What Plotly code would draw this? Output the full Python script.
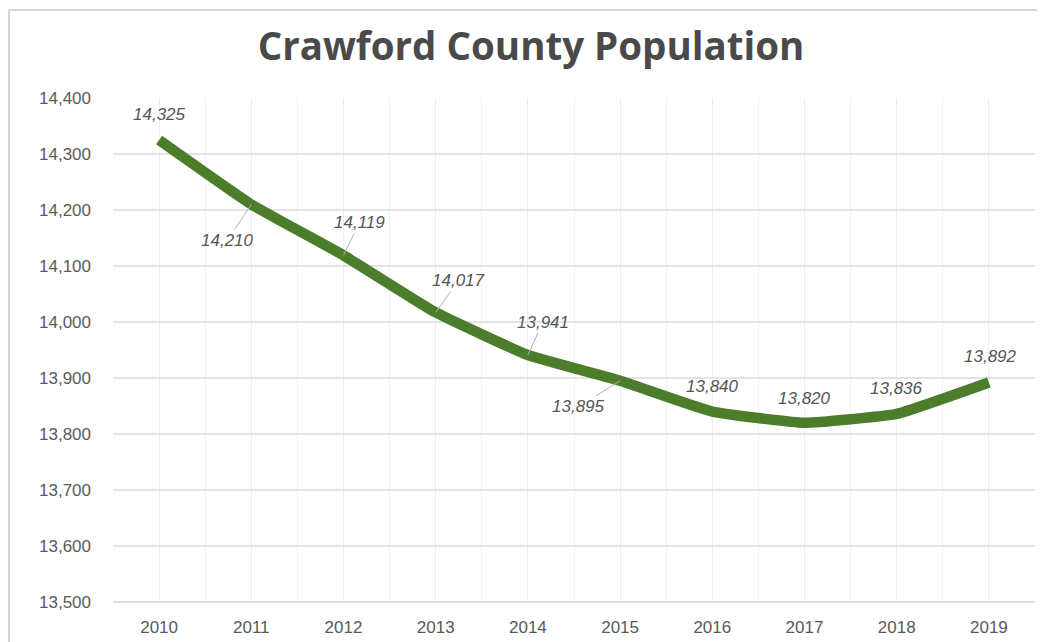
import plotly.graph_objects as go

years = [2010, 2011, 2012, 2013, 2014, 2015, 2016, 2017, 2018, 2019]
population = [14325, 14210, 14119, 14017, 13941, 13895, 13840, 13820, 13836, 13892]
label_dx = [0, -24, 16, 23, 15, -42, 0, 0, 0, 2]
label_dy = [-26, 36, -33, -32, -33, 26, -25, -24, -25, -26]
leader = [False, True, True, True, True, True, False, False, False, False]
y_ticks = [13500, 13600, 13700, 13800, 13900, 14000, 14100, 14200, 14300, 14400]

# page body adds an 8px offset, so the figure is 8px smaller than the window
W, H = 1037, 634
L, R, T, B = 105, 10, 90, 40
PW, PH = W - L - R, H - T - B

fig = go.Figure()
fig.add_trace(go.Scatter(
    x=years, y=population, mode="lines",
    line=dict(color="#4b7d2b", width=10.5, shape="spline", smoothing=0.35),
    hoverinfo="x+y", showlegend=False,
))

for x, v, dx, dy, ld in zip(years, population, label_dx, label_dy, leader):
    fig.add_annotation(
        x=x, y=v, text=f"<i>{v:,}</i>", ax=dx, ay=dy, xref="x", yref="y",
        showarrow=True, arrowhead=0, arrowwidth=1,
        arrowcolor="#b0b0b0" if ld else "rgba(0,0,0,0)", standoff=0,
        font=dict(family="Liberation Sans, Arial, sans-serif", size=17, color="#555555"),
    )

fig.update_layout(
    width=W, height=H,
    margin=dict(l=L, r=R, t=T, b=B),
    paper_bgcolor="white", plot_bgcolor="white",
    title=dict(text="<b>Crawford County Population</b>", x=(531 - 8) / W, xanchor="center",
               y=1 - (47 - 8) / H, yanchor="middle",
               font=dict(family="Open Sans, Lato, sans-serif", size=38.5, color="#4a4a4a")),
    xaxis=dict(range=[2009.5, 2019.5], tickvals=years, ticktext=[str(y) for y in years],
               showgrid=True, gridcolor="#eeeeee", gridwidth=1, zeroline=False,
               minor=dict(dtick=0.5, tick0=2009.5, showgrid=True, gridcolor="#f2f2f2"),
               ticks="", ticklabelstandoff=13, automargin=False,
               tickfont=dict(family="Liberation Sans, Arial, sans-serif", size=17, color="#595959")),
    yaxis=dict(range=[13500, 14400], tickvals=y_ticks, tickformat=",",
               showgrid=True, gridcolor="#e3e3e3", gridwidth=1.5, zeroline=False,
               ticks="", ticklabelstandoff=21, automargin=False,
               tickfont=dict(family="Liberation Sans, Arial, sans-serif", size=17, color="#595959")),
)

fig.add_shape(type="line", xref="paper", yref="paper",
              x0=0, x1=1, y0=0, y1=0, line=dict(color="#dddddd", width=2))
# outer frame: top and left edges
fig.add_shape(type="line", xref="paper", yref="paper",
              x0=(1 - L) / PW, x1=(W - L) / PW, y0=1 + (T - 2) / PH, y1=1 + (T - 2) / PH,
              line=dict(color="#d5d5d5", width=2))
fig.add_shape(type="line", xref="paper", yref="paper",
              x0=(1 - L) / PW, x1=(1 - L) / PW, y0=1 + (T - 2) / PH, y1=-B / PH,
              line=dict(color="#d5d5d5", width=2))

fig.write_html("out.html")
